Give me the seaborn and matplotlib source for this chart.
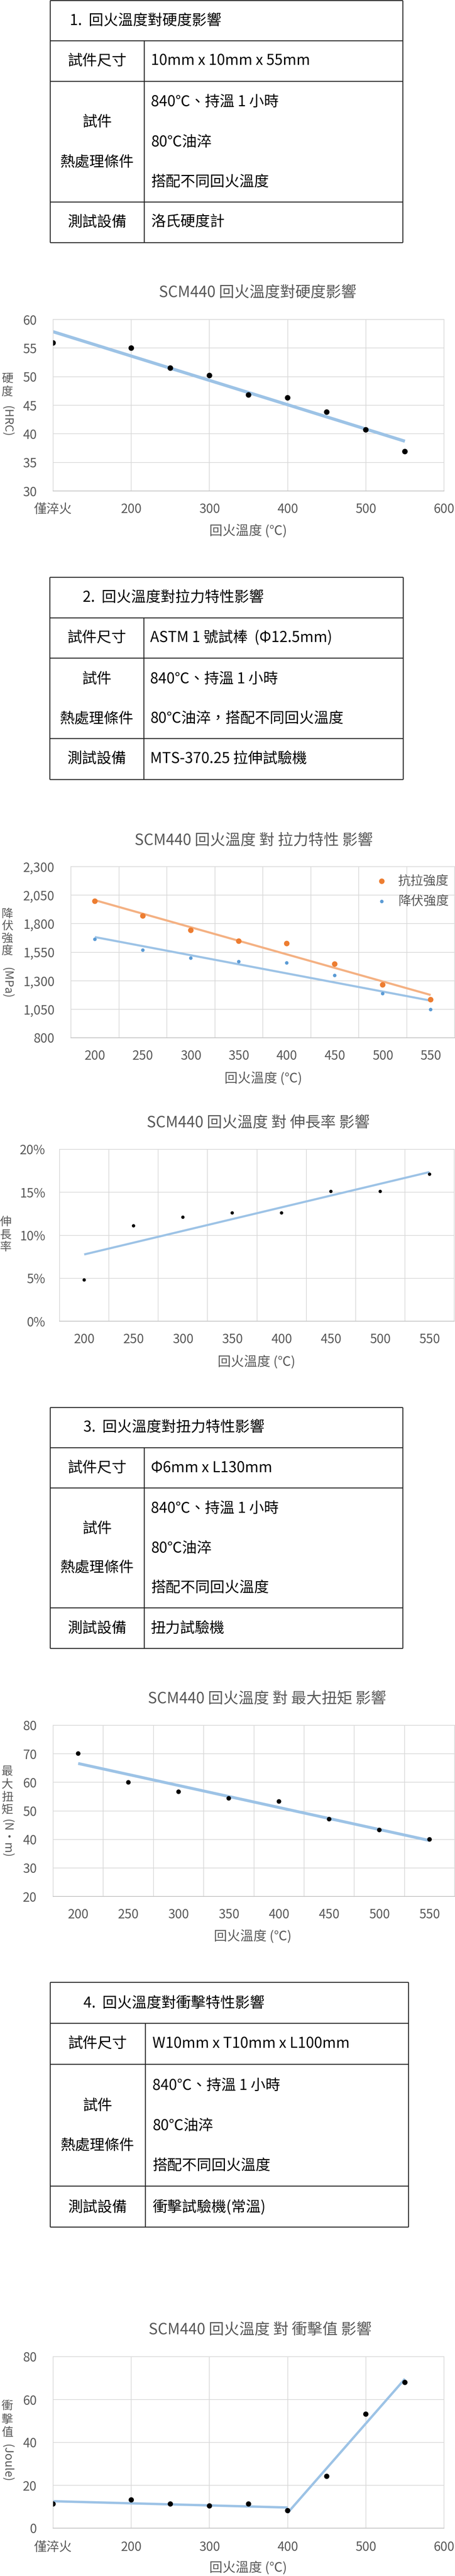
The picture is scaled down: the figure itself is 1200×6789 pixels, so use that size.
import numpy as np
import matplotlib
matplotlib.use('Agg')
import matplotlib.pyplot as plt
from matplotlib.ticker import StrMethodFormatter
import seaborn as sns

# ---- data ----
# 1. hardness
hard_temps = [100, 200, 250, 300, 350, 400, 450, 500, 550]
hardness = [55.9, 55.0, 51.5, 50.2, 46.8, 46.3, 43.8, 40.7, 36.9]
hard_xticks = [100, 200, 300, 400, 500, 600]
hard_xlabels = ['僅淬火', '200', '300', '400', '500', '600']

# 2. tensile
cat_temps = ['200', '250', '300', '350', '400', '450', '500', '550']
tensile_strength = [1997, 1868, 1742, 1647, 1626, 1446, 1264, 1134]
yield_strength = [1663, 1568, 1498, 1467, 1456, 1346, 1187, 1047]

# 3. elongation (%)
elongation = [4.8, 11.1, 12.1, 12.6, 12.6, 15.1, 15.1, 17.1]

# 4. max torque (N·m)
torque = [70.1, 60.0, 56.7, 54.4, 53.3, 47.1, 43.3, 40.0]

# 5. impact (Joule)
impact_temps = [100, 200, 250, 300, 350, 400, 450, 500, 550]
impact = [11.3, 13.2, 11.3, 10.4, 11.3, 8.2, 24.2, 53.2, 68.0]

# table texts
t1_title = '1.  回火溫度對硬度影響'
t1_size = '10mm x 10mm x 55mm'
t1_equip = '洛氏硬度計'
t2_title = '2.  回火溫度對拉力特性影響'
t2_size = 'ASTM 1 號試棒  (Φ12.5mm)'
t2_heat = ['840℃、持溫 1 小時', '80℃油淬，搭配不同回火溫度']
t2_equip = 'MTS-370.25 拉伸試驗機'
t3_title = '3.  回火溫度對扭力特性影響'
t3_size = 'Φ6mm x L130mm'
t3_equip = '扭力試驗機'
t4_title = '4.  回火溫度對衝擊特性影響'
t4_size = 'W10mm x T10mm x L100mm'
t4_equip = '衝擊試驗機(常溫)'
heat_lines = ['840℃、持溫 1 小時', '80℃油淬', '搭配不同回火溫度']

# ---- setup ----
sns.set_theme(style='white')
plt.rcParams['font.family'] = ['Noto Sans CJK TC', 'DejaVu Sans']

W, H = 1200, 6789
GREY = '#595959'
GRID = '#D9D9D9'
TREND = '#9DC3E6'

fig = plt.figure(figsize=(W / 100, H / 100), dpi=100)
bg = fig.add_axes([0, 0, 1, 1])
bg.set_xlim(0, W)
bg.set_ylim(H, 0)
bg.axis('off')


def chart_ax(x0, x1, y0, y1):
    return fig.add_axes([x0 / W, 1 - y1 / H, (x1 - x0) / W, (y1 - y0) / H])


def style(ax, ypad=31, xpad=22, ncat=None):
    for sp in ax.spines.values():
        sp.set_color(GRID)
        sp.set_linewidth(1.3)
    ax.spines['bottom'].set_color('#BFBFBF')
    ax.tick_params(axis='both', which='both', length=0, labelsize=24, labelcolor=GREY)
    ax.tick_params(axis='y', pad=ypad)
    ax.tick_params(axis='x', pad=xpad)
    ax.grid(True, axis='y', color=GRID, lw=1.3)
    if ncat:
        ax.set_xticks(np.arange(ncat + 1) - 0.5, minor=True)
        ax.grid(True, which='minor', axis='x', color=GRID, lw=1.3)
        ax.grid(False, which='major', axis='x')
        ax.set_xlim(-0.5, ncat - 0.5)
    else:
        ax.grid(True, axis='x', color=GRID, lw=1.3)
    ax.set_axisbelow(True)
    ax.set_xlabel('')
    ax.set_ylabel('')


def title(x, y, s):
    bg.text(x, y, s, fontsize=29, color=GREY, ha='center', va='center')


def xlab(x, y):
    bg.text(x, y, '回火溫度 (℃)', fontsize=25, color=GREY, ha='center', va='center')


def ylab(x, ys, chars, rest, rest_y):
    for yy, c in zip(ys, chars):
        bg.text(x, yy, c, fontsize=22, color=GREY, ha='center', va='center')
    bg.text(x, rest_y, rest, fontsize=22, color=GREY, ha='center', va='center', rotation=270)


def table(ys, x0, xdiv, x1):
    bg.hlines(ys, x0, x1, color='#222222', lw=1.8)
    bg.vlines([x0, x1], ys[0], ys[-1], color='#222222', lw=1.8)
    bg.vlines(xdiv, ys[1], ys[-1], color='#222222', lw=1.8)


def ttext(x, y, s, ha='left'):
    bg.text(x, y, s, fontsize=28, color='black', ha=ha, va='center')


# ---- table 1 ----
table([1, 107, 214, 532, 639], 132, 380, 1062)
ttext(184, 55, t1_title)
ttext(256, 161, '試件尺寸', 'center')
ttext(398, 161, t1_size)
ttext(256, 322, '試件', 'center')
ttext(256, 428, '熱處理條件', 'center')
for yy, s in zip([269, 375, 481], heat_lines):
    ttext(398, yy, s)
ttext(256, 586, '測試設備', 'center')
ttext(398, 586, t1_equip)

# ---- chart 1: hardness ----
title(679, 772, 'SCM440 回火溫度對硬度影響')
ax = chart_ax(140, 1171, 842, 1294)
sns.regplot(x=np.array(hard_temps), y=np.array(hardness), scatter=False, ci=None, ax=ax,
            line_kws=dict(color=TREND, lw=6, solid_capstyle='butt'))
sns.scatterplot(x=hard_temps, y=hardness, ax=ax, color='black', s=110, edgecolor='none', zorder=3)
ax.set_xlim(100, 600)
ax.set_ylim(30, 60)
ax.set_xticks(hard_xticks)
ax.set_xticklabels(hard_xlabels)
ax.set_yticks(np.arange(30, 61, 5))
style(ax)
xlab(655, 1400)
ylab(19, [998, 1033], '硬度', '(HRC)', 1110)

# ---- table 2 ----
table([1521, 1628, 1734, 1946, 2054], 131, 379, 1063)
ttext(218, 1575, t2_title)
ttext(255, 1681, '試件尺寸', 'center')
ttext(396, 1681, t2_size)
ttext(255, 1790, '試件', 'center')
ttext(255, 1895, '熱處理條件', 'center')
for yy, s in zip([1790, 1895], t2_heat):
    ttext(396, yy, s)
ttext(255, 2000, '測試設備', 'center')
ttext(396, 2000, t2_equip)

# ---- chart 2: tensile ----
title(669, 2216, 'SCM440 回火溫度 對 拉力特性 影響')
ax = chart_ax(187, 1199, 2284, 2735)
xi = np.arange(len(cat_temps))
sns.regplot(x=xi, y=np.array(tensile_strength), scatter=False, ci=None, ax=ax,
            line_kws=dict(color='#F4B183', lw=4, solid_capstyle='butt'))
sns.regplot(x=xi, y=np.array(yield_strength), scatter=False, ci=None, ax=ax,
            line_kws=dict(color=TREND, lw=4, solid_capstyle='butt'))
sns.scatterplot(x=xi, y=tensile_strength, ax=ax, color='#ED7D31', s=110, edgecolor='none',
                zorder=3, label='抗拉強度')
sns.scatterplot(x=xi, y=yield_strength, ax=ax, color='#5B9BD5', s=45, edgecolor='none',
                zorder=3, label='降伏強度')
ax.set_ylim(800, 2300)
ax.set_yticks(np.arange(800, 2301, 250))
ax.yaxis.set_major_formatter(StrMethodFormatter('{x:,.0f}'))
ax.set_xticks(xi)
ax.set_xticklabels(cat_temps)
style(ax, ncat=len(cat_temps))
ax.legend(loc='upper right', bbox_to_anchor=(0.985, 0.955), frameon=False, fontsize=24,
          labelcolor=GREY, borderaxespad=0, borderpad=0, handletextpad=0.3, labelspacing=0.55)
xlab(695, 2843)
ylab(19, [2410, 2442, 2474, 2506], '降伏強度', '(MPa)', 2590)

# ---- chart 3: elongation ----
title(681, 2960, 'SCM440 回火溫度 對 伸長率 影響')
ax = chart_ax(157, 1198, 3029, 3482)
sns.regplot(x=xi, y=np.array(elongation), scatter=False, ci=None, ax=ax,
            line_kws=dict(color=TREND, lw=4, solid_capstyle='butt'))
sns.scatterplot(x=xi, y=elongation, ax=ax, color='black', s=40, edgecolor='none', zorder=3)
ax.set_ylim(0, 20)
ax.set_yticks(np.arange(0, 21, 5))
ax.yaxis.set_major_formatter(StrMethodFormatter('{x:.0f}%'))
ax.set_xticks(xi)
ax.set_xticklabels(cat_temps)
style(ax, ypad=27, ncat=len(cat_temps))
xlab(677, 3590)
ylab(15, [3222, 3255, 3288], '伸長率', '', 3300)

# ---- table 3 ----
table([3709, 3815, 3921, 4237, 4344], 132, 380, 1062)
ttext(220, 3762, t3_title)
ttext(256, 3869, '試件尺寸', 'center')
ttext(398, 3869, t3_size)
ttext(256, 4029, '試件', 'center')
ttext(256, 4132, '熱處理條件', 'center')
for yy, s in zip([3976, 4081, 4186], heat_lines):
    ttext(398, yy, s)
ttext(256, 4292, '測試設備', 'center')
ttext(398, 4292, t3_equip)

# ---- chart 4: torque ----
title(704, 4478, 'SCM440 回火溫度 對 最大扭矩 影響')
ax = chart_ax(140, 1199, 4547, 4998)
sns.regplot(x=xi, y=np.array(torque), scatter=False, ci=None, ax=ax,
            line_kws=dict(color=TREND, lw=5.5, solid_capstyle='butt'))
sns.scatterplot(x=xi, y=torque, ax=ax, color='black', s=75, edgecolor='none', zorder=3)
ax.set_ylim(20, 80)
ax.set_yticks(np.arange(20, 81, 10))
ax.set_xticks(xi)
ax.set_xticklabels(cat_temps)
style(ax, ncat=len(cat_temps))
xlab(667, 5104)
ylab(19, [4670, 4704, 4737, 4770], '最大扭矩', '(N·m)', 4845)

# ---- table 4 ----
table([5224, 5332, 5440, 5761, 5869], 132, 383, 1077)
ttext(220, 5280, t4_title)
ttext(257, 5386, '試件尺寸', 'center')
ttext(402, 5386, t4_size)
ttext(257, 5550, '試件', 'center')
ttext(257, 5655, '熱處理條件', 'center')
for yy, s in zip([5497, 5603, 5709], heat_lines):
    ttext(402, yy, s)
ttext(257, 5817, '測試設備', 'center')
ttext(402, 5817, t4_equip)

# ---- chart 5: impact ----
title(686, 6141, 'SCM440 回火溫度 對 衝擊值 影響')
ax = chart_ax(140, 1171, 6211, 6663)
it = np.array(impact_temps)
iv = np.array(impact)
sns.regplot(x=it[:6], y=iv[:6], scatter=False, ci=None, ax=ax,
            line_kws=dict(color=TREND, lw=4.5, solid_capstyle='butt'))
sns.regplot(x=it[5:], y=iv[5:], scatter=False, ci=None, ax=ax,
            line_kws=dict(color=TREND, lw=4.5, solid_capstyle='butt'))
sns.scatterplot(x=impact_temps, y=impact, ax=ax, color='black', s=100, edgecolor='none', zorder=3)
ax.set_xlim(100, 600)
ax.set_ylim(0, 80)
ax.set_xticks(hard_xticks)
ax.set_xticklabels(hard_xlabels)
ax.set_yticks(np.arange(0, 81, 20))
style(ax, xpad=24)
xlab(655, 6768)
ylab(19, [6342, 6377, 6412], '衝擊值', '(Joule)', 6491)

fig.savefig('out.png', dpi=100, facecolor='white')
